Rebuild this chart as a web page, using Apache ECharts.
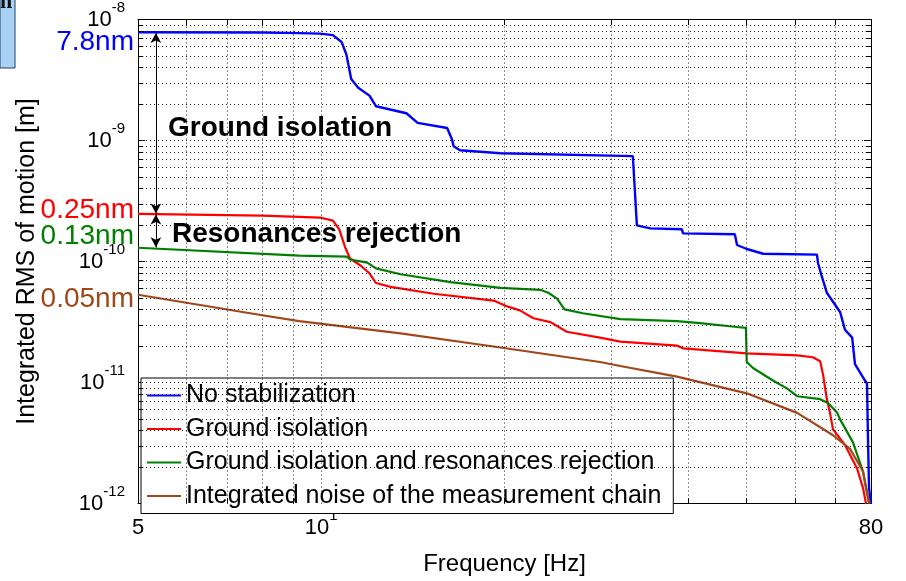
<!DOCTYPE html>
<html>
<head>
<meta charset="utf-8">
<script src="https://cdn.jsdelivr.net/npm/echarts@6/dist/echarts.min.js"></script>
<style>
  html, body { margin: 0; padding: 0; background: #fff; }
  #chart { width: 906px; height: 581px; }
</style>
</head>
<body>
<div id="chart"></div>
<script>
// [frequency Hz, integrated RMS m]
const noStab = [[5, 7.85e-9], [8.0, 7.8e-9], [9.2, 7.71e-9], [9.95, 7.65e-9], [10.45, 7.43e-9], [10.8, 6.52e-9],
  [11.0, 5.12e-9], [11.2, 3.22e-9], [11.5, 2.73e-9], [12.0, 2.35e-9], [12.3, 1.92e-9], [13.8, 1.68e-9],
  [14.4, 1.40e-9], [16.1, 1.27e-9], [16.4, 1.02e-9], [16.5, 8.95e-10], [16.9, 8.30e-10], [19.7, 7.85e-10],
  [32.5, 7.43e-10], [33.0, 1.99e-10], [34.7, 1.88e-10], [39.1, 1.85e-10], [39.3, 1.71e-10], [47.8, 1.68e-10],
  [48.2, 1.37e-10], [50.0, 1.27e-10], [53.2, 1.16e-10], [65.2, 1.14e-10], [65.5, 9.63e-11], [66.4, 7.57e-11],
  [67.7, 5.52e-11], [71.2, 3.81e-11], [72.5, 2.73e-11], [74.5, 2.35e-11], [75.3, 1.42e-11], [78.2, 1.04e-11],
  [78.8, 9.81e-12], [79.1, 3.41e-12], [79.4, 1.35e-12], [80, 1e-12]];

const groundIso = [[5, 2.48e-10], [8.0, 2.4e-10], [9.95, 2.31e-10], [10.45, 2.18e-10], [10.7, 1.85e-10],
  [10.94, 1.32e-10], [11.15, 1.06e-10], [11.6, 9.28e-11], [12.0, 8.0e-11], [12.3, 6.65e-11], [13.0, 6.17e-11],
  [15.3, 5.42e-11], [19.2, 4.76e-11], [20.2, 4.26e-11], [21.2, 3.95e-11], [22.3, 3.40e-11], [23.8, 3.16e-11],
  [25.3, 2.63e-11], [28.7, 2.35e-11], [31.0, 2.18e-11], [38.4, 2.02e-11], [39.3, 1.92e-11], [50.0, 1.74e-11],
  [60.5, 1.68e-11], [64.2, 1.62e-11], [66.0, 1.50e-11], [66.7, 1.18e-11], [67.7, 7.3e-12], [68.5, 5.62e-12],
  [69.3, 4.10e-12], [72.5, 3.05e-12], [75.9, 1.95e-12], [77.6, 1.35e-12], [78.5, 1e-12]];

const groundRes = [[5, 1.30e-10], [9.2, 1.12e-10], [11.0, 1.10e-10], [11.15, 1.04e-10], [11.9, 9.81e-11],
  [12.3, 8.78e-11], [13.5, 7.85e-11], [16.3, 6.77e-11], [19.7, 6.06e-11], [22.9, 5.84e-11], [23.6, 5.52e-11],
  [24.4, 4.94e-11], [25.1, 4.03e-11], [26.9, 3.74e-11], [31.0, 3.34e-11], [38.4, 3.22e-11], [41.9, 3.10e-11],
  [48.2, 2.88e-11], [49.85, 2.83e-11], [50.0, 1.48e-11], [51.2, 1.32e-11], [55.2, 1.04e-11], [58.2, 8.95e-12],
  [60.5, 7.71e-12], [66.0, 7.29e-12], [68.0, 6.77e-12], [70.4, 5.62e-12], [71.2, 4.94e-12], [74.7, 3.22e-12],
  [77.6, 1.85e-12], [79.4, 1e-12]];

const noiseChain = [[5, 5.32e-11], [8.0, 3.60e-11], [9.2, 3.22e-11], [13.5, 2.55e-11], [19.7, 1.95e-11],
  [28.7, 1.48e-11], [31.0, 1.37e-11], [38.4, 1.12e-11], [50.0, 8.15e-12], [60.5, 5.62e-12], [69.3, 3.67e-12],
  [73.9, 2.83e-12], [77.6, 1.85e-12], [79.1, 1.12e-12], [79.6, 1e-12]];

const seriesNames = ['No stabilization', 'Ground isolation', 'Ground isolation and resonances rejection',
  'Integrated noise of the measurement chain'];

const xTickVals = [5, 10, 80];
const xTickTexts = ['{b|5}', '{b|10}{s|1}', '{b|80}'];
const yTickVals = [1e-12, 1e-11, 1e-10, 1e-9, 1e-8];
const yTickTexts = ['{b|10}{s|-12}', '{b|10}{s|-11}', '{b|10}{s|-10}', '{b|10}{s|-9}', '{b|10}{s|-8}'];

// dotted grid (MATLAB style)
const xGrid = [6, 7, 8, 9, 10, 20, 30, 40, 50, 60, 70];
const yGrid = [];
[1e-12, 1e-11, 1e-10, 1e-9].forEach(d => {
  for (let k = 1; k <= 9; k++) if (!(d === 1e-12 && k === 1)) yGrid.push(d * k);
});
const isDecade = v => Math.abs(Math.log10(v) - Math.round(Math.log10(v))) < 1e-6;
const yMinor = yGrid.filter(v => !isDecade(v));
const xMinor = xGrid.filter(v => !isDecade(v));

// arrows between plateaus
const arrowFreq = 5.35;
const arrowSpans = [[7.75e-9, 2.5e-10], [2.45e-10, 1.31e-10]];

const FONT = '"Liberation Sans", Arial, sans-serif';

function pick(vals, texts, v) {
  let best = 0;
  vals.forEach((t, i) => {
    if (Math.abs(Math.log10(t) - Math.log10(v)) < Math.abs(Math.log10(vals[best]) - Math.log10(v))) best = i;
  });
  return texts[best];
}

const richLabel = {
  b: { fontSize: 22, lineHeight: 38, color: '#000', fontFamily: FONT },
  s: { fontSize: 15, lineHeight: 14, padding: [0, 0, 24, 0], color: '#000', fontFamily: FONT }
};

const frameAxis = {
  axisLine: { show: true, onZero: false, lineStyle: { color: '#000', width: 1 } },
  axisTick: { show: true, inside: true, length: 7, lineStyle: { color: '#000' } },
  splitLine: { show: false }
};

const gridLines = xGrid.map(v => [{ coord: [v, 1e-12] }, { coord: [v, 1e-8] }])
  .concat(yGrid.map(v => [{ coord: [5, v] }, { coord: [80, v] }]));

// short minor ticks drawn inward on the frame
const minorTicks = [];
yMinor.forEach(v => {
  minorTicks.push([{ coord: [5, v] }, { coord: [5.1, v] }]);
  minorTicks.push([{ coord: [78.4, v] }, { coord: [80, v] }]);
});
xMinor.forEach(v => {
  minorTicks.push([{ coord: [v, 1e-12] }, { coord: [v, 1.11e-12] }]);
  minorTicks.push([{ coord: [v, 9e-9] }, { coord: [v, 1e-8] }]);
});

var myChart = echarts.init(document.getElementById('chart'));
myChart.setOption({
  animation: false,
  backgroundColor: '#fff',
  grid: { left: 138, top: 17, right: 35, bottom: 68 },
  xAxis: [
    Object.assign({
      type: 'log', logBase: 10, min: 5, max: 80, position: 'bottom',
      axisLabel: {
        margin: 5, showMinLabel: true, showMaxLabel: true,
        formatter: v => pick(xTickVals, xTickTexts, v), rich: richLabel
      },
      name: 'Frequency [Hz]', nameLocation: 'middle', nameGap: 38,
      nameTextStyle: { fontSize: 24, color: '#000', fontFamily: FONT }
    }, frameAxis),
    Object.assign({ type: 'log', logBase: 10, min: 5, max: 80, position: 'top', axisLabel: { show: false } }, frameAxis)
  ],
  yAxis: [
    Object.assign({
      type: 'log', logBase: 10, min: 1e-12, max: 1e-8, position: 'left',
      axisLabel: { margin: 13, formatter: v => pick(yTickVals, yTickTexts, v), rich: richLabel },
      name: 'Integrated RMS of motion [m]', nameLocation: 'middle', nameGap: 98, nameRotate: 90,
      nameTextStyle: { fontSize: 25, color: '#000', fontFamily: FONT }
    }, frameAxis),
    Object.assign({ type: 'log', logBase: 10, min: 1e-12, max: 1e-8, position: 'right', axisLabel: { show: false } }, frameAxis)
  ],
  legend: {
    orient: 'vertical', left: 141, top: 378,
    data: seriesNames,
    icon: 'rect', itemWidth: 34, itemHeight: 2, itemGap: 8.5,
    padding: [5, 12, 5, 6],
    backgroundColor: '#fff', borderColor: '#000', borderWidth: 1, borderRadius: 0,
    textStyle: { fontSize: 25, lineHeight: 24, color: '#000', fontFamily: FONT },
    selectedMode: false
  },
  series: [
    {
      name: 'grid', type: 'line', data: [[5, 1e-12]], symbol: 'none', silent: true, z: 1,
      lineStyle: { width: 0 },
      markLine: {
        silent: true, symbol: 'none', label: { show: false },
        lineStyle: { type: [1, 3], color: '#222', width: 1 },
        data: gridLines
      }
    },
    {
      name: 'minor', type: 'line', data: [[5, 1e-12]], symbol: 'none', silent: true, z: 2,
      lineStyle: { width: 0 },
      markLine: {
        silent: true, symbol: 'none', label: { show: false },
        lineStyle: { type: 'solid', color: '#000', width: 1 },
        data: minorTicks
      }
    },
    { name: seriesNames[0], type: 'line', data: noStab, symbol: 'none', z: 3,
      lineStyle: { color: '#0000ff', width: 2.4 }, itemStyle: { color: '#0000ff' } },
    { name: seriesNames[1], type: 'line', data: groundIso, symbol: 'none', z: 3,
      lineStyle: { color: '#ff0000', width: 2.2 }, itemStyle: { color: '#ff0000' } },
    { name: seriesNames[2], type: 'line', data: groundRes, symbol: 'none', z: 3,
      lineStyle: { color: '#008000', width: 2.2 }, itemStyle: { color: '#008000' } },
    { name: seriesNames[3], type: 'line', data: noiseChain, symbol: 'none', z: 3,
      lineStyle: { color: '#a0481a', width: 2.2 }, itemStyle: { color: '#a0481a' } },
    {
      name: 'arrows', type: 'line', data: [], symbol: 'none', silent: true, z: 5,
      markLine: {
        silent: true, symbol: ['arrow', 'arrow'], symbolSize: [8, 10], label: { show: false },
        lineStyle: { type: 'solid', color: '#000', width: 1 },
        data: arrowSpans.map(s => [{ coord: [arrowFreq, s[0]] }, { coord: [arrowFreq, s[1]] }])
      }
    }
  ],
  graphic: [
    { type: 'rect', shape: { x: 0, y: -1, width: 15, height: 69 },
      style: { fill: '#a9d1f5', stroke: '#24405e', lineWidth: 1 } },
    { type: 'text', x: 0, y: -9, style: { text: 'n', fontSize: 22, fontWeight: 'bold', fontFamily: 'serif', fill: '#111' } },
    { type: 'text', x: 134, y: 42, style: { text: '7.8nm', fontSize: 28, fontFamily: FONT, fill: '#0000ff', align: 'right', verticalAlign: 'middle' } },
    { type: 'text', x: 134, y: 210, style: { text: '0.25nm', fontSize: 28, fontFamily: FONT, fill: '#ff0000', align: 'right', verticalAlign: 'middle' } },
    { type: 'text', x: 134, y: 236, style: { text: '0.13nm', fontSize: 28, fontFamily: FONT, fill: '#008000', align: 'right', verticalAlign: 'middle' } },
    { type: 'text', x: 134, y: 299, style: { text: '0.05nm', fontSize: 28, fontFamily: FONT, fill: '#a0481a', align: 'right', verticalAlign: 'middle' } },
    { type: 'text', x: 168, y: 128, z: 10, style: { text: 'Ground isolation', fontSize: 28, fontWeight: 'bold', fontFamily: FONT, fill: '#000', verticalAlign: 'middle' } },
    { type: 'text', x: 172, y: 234, z: 10, style: { text: 'Resonances rejection', fontSize: 28, fontWeight: 'bold', fontFamily: FONT, fill: '#000', verticalAlign: 'middle' } }
  ]
});
</script>
</body>
</html>
